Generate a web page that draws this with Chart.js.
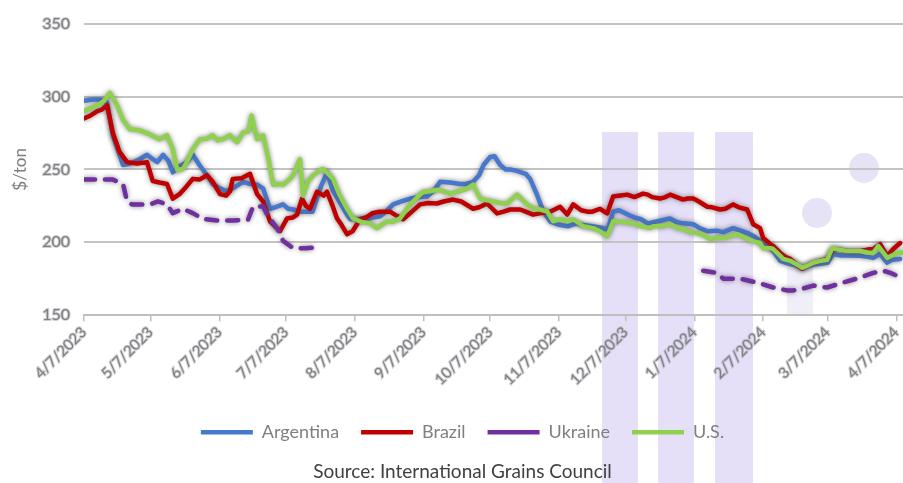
<!DOCTYPE html>
<html>
<head>
<meta charset="utf-8">
<title>Corn export prices</title>
<script src="https://cdn.jsdelivr.net/npm/chart.js@4"></script>
<style>
  html, body { margin: 0; padding: 0; background: #fff; }
  canvas { display: block; }
</style>
</head>
<body>
<canvas id="priceChart" width="903" height="483"></canvas>
<script>
// x values are days counted from 4/7/2023, y values in $/ton
const tickDays = [0, 30, 61, 91, 122, 153, 183, 214, 244, 275, 306, 335, 366];
const tickLabels = ['4/7/2023', '5/7/2023', '6/7/2023', '7/7/2023', '8/7/2023', '9/7/2023',
  '10/7/2023', '11/7/2023', '12/7/2023', '1/7/2024', '2/7/2024', '3/7/2024', '4/7/2024'];
const yTicks = [150, 200, 250, 300, 350];

const argentina = [
  [0,297],[4,298],[7,298],[10.4,296],[13,273],[17.6,253],[21,254],[25,257],[28.4,260],[31,257],
  [33,255],[35.6,260],[38,256],[40,248],[43,252],[46.4,255],[49,260],[52,253],[55.4,246],[58,240],
  [61.3,237],[64,235],[67,237],[71.7,241.5],[75,240],[78,239.5],[80.7,237],[83.8,223],[86,224],[89.7,226],
  [92,223],[94.2,222.5],[97.3,221],[100,221],[103,221],[106.4,237],[109.5,248],[112,236],[115,228],[118.5,219],
  [120,215.8],[124,216],[127.5,216],[130,217],[133.4,217.8],[136,221],[139.3,226],[143,228],[147,230],[151,231],
  [154.6,231.4],[158,236],[160.4,241.5],[165,241],[169.4,240],[172,240],[175.3,241.5],[178,246],[180,253],[183,258.5],
  [185,259],[187.5,253],[190,250],[192,250],[195,249],[199,247],[201,243.5],[204,233],[207,221],[210,214.4],
  [214,212],[218,211],[222,213],[224,212],[229,211],[233,210],[236,209],[238.4,221],[241,222],[245,219],
  [248,217],[251,215.8],[254,213],[257,214],[260,215],[264,216.4],[267,214],[270,213],[274.5,212.4],[277,210],
  [281,207.6],[285,208],[288,207],[292.5,209.7],[296,208],[299,206.3],[302,204],[304.6,201],[308,197],[310.5,194],
  [313.7,187.3],[316,186],[318,185],[321,184],[323.6,181.9],[327,184],[330,185],[335,186],[337.5,192],[341,191],
  [345,191],[349.7,190.7],[353,190],[355.6,189.3],[358.7,192],[361.9,186],[364,188],[367.7,188.6]
];

const brazil = [
  [0,285],[3,287],[6,290],[8,291],[10.4,294],[13,275],[16,262],[19.4,255],[24,254],[28.4,255],
  [31,242],[34,241],[37.4,240],[40,230],[43,233],[46,238],[49,243.5],[52,243],[55.4,246],[58,241.5],
  [61.3,233],[64,232],[65.8,235],[67,243.5],[71,244],[74.8,247],[78,233],[80.7,228],[83.8,214.4],[86,211],
  [88.3,207.6],[91.5,216.4],[94,217],[96,219],[98.2,230],[100,225],[101.8,223],[105,234.7],[108,232],[109.5,234.7],
  [112,225],[114,216.4],[116,212],[118.5,205.6],[121,207.6],[124.4,215.8],[127,217],[130,220],[133,221],[137.9,221],
  [140,219],[143.8,215.8],[147,220],[151.4,226],[155,227],[159,226.6],[162,228],[166.3,229.3],[170,228],[175.3,223],
  [178,224],[181.6,226.6],[184,223],[186.1,219.8],[189,221],[192,222.5],[196.5,222.5],[199,221],[202.3,219],[206,220],
  [210,221],[214.5,224.4],[217.7,219],[220.4,226],[224,222],[226.7,221],[229,221],[232.5,223],[235.7,219.8],[238.4,231.4],
  [241,232],[244.7,232.7],[248,231],[251.9,233.4],[254,232.7],[256,231],[259.6,230],[262,231],[264.1,232.7],[267,231],
  [269.9,229.3],[272,230],[274.5,230],[277,228],[280.8,224.4],[283,224],[286.6,222.5],[289,223],[292.5,226],[295,224],
  [298.8,222.5],[301.5,212.4],[304.6,209.7],[306,202.9],[309.2,198.8],[310.5,197.5],[313.7,192.7],[316,190],[318.2,188.6],[321,185],
  [323.6,181.9],[326,184],[328.5,186],[331,187],[334.8,188.6],[337.5,195.4],[340,195],[343.8,194],[347,194],[349.7,194],
  [353,195],[355.6,195.4],[358.7,198.8],[361.9,190.7],[364.6,195.4],[367.7,199.5]
];

// Ukraine has no quotes between early August and late January
const ukraine = [
  [0,243],[6,243],[13,243],[17.6,240],[19.4,228],[21.6,226],[26,226],[29.7,226],[33.3,228],[37.4,226],
  [40,220],[44.6,223],[49,220],[53.6,216],[60,215],[67,215],[73.9,215.5],[76.2,224.6],[80.7,224.6],[82.5,219],
  [87,209.7],[89.7,201],[94.2,196],[100,196],[106.4,196.5],[192,null],
  [279,180.5],[285.3,179],[288,175],[295.6,175],[303.3,172.4],[310.5,169],[316.8,167],[319.5,167],[324,168.3],[328.5,170.3],
  [334.8,169],[342,172.4],[349.7,175.8],[355.6,179],[360.1,180.5],[363.3,179],[366.4,177]
];

const us = [
  [0,290],[3,292],[5.9,293.7],[9,297],[11.7,302.5],[14.9,294],[17.6,284],[20.7,277.5],[25,276.8],[29.7,274],
  [34,270.7],[37.4,273.4],[40,264],[42,249.7],[44.6,250.3],[47,257],[49,264],[52.3,270.7],[55.4,271],[58,273.4],
  [60,270],[62.6,270.7],[65.8,273.4],[69,268.6],[71.7,275.4],[74,276],[75.5,287],[78,270.7],[80.7,273.4],[83,258],
  [85.2,239.5],[88,240],[89.7,239.5],[92.8,243.5],[94.2,246],[97.3,257],[98.7,232],[101,242],[103.2,246],[106,249],
  [107.7,250.3],[110,247],[112.2,243.5],[115,233],[118.5,223],[121.2,216.4],[125,214],[128.9,213],[132,209.7],[136.5,214.4],
  [139,214],[142.4,216.4],[146,224],[148.3,228],[152.8,234.7],[156,235],[159.1,236],[162,235],[164.9,233.4],[169,235],
  [172.6,236.8],[175.3,239.5],[178.5,230],[181,229],[184.3,228],[187.5,227],[190.6,226.6],[195.1,232.7],[199.6,226],[203,223],
  [205.5,222.5],[208.7,221],[211.4,214.4],[214.5,215.8],[217.7,214.4],[220.4,215.8],[224.9,211],[229.4,209.7],[232.5,207.6],[235.7,204],
  [238.4,214.4],[242,214],[247.4,213],[251,211],[255.1,209.7],[256.4,211],[260,211],[264.1,212.4],[267,210],[269.9,209],
  [273,207],[276.3,206.3],[279,205],[282.1,202.2],[285,203],[288,202.9],[291,204],[294.3,205.6],[298,203],[301,201],
  [304.6,199.5],[306,196],[309.2,196],[310.5,195.4],[313.7,190.7],[315,188.6],[318.2,187.3],[321,185],[323.6,182.5],[326,184],
  [328.5,186],[331,187],[334.8,188],[337.1,196],[340,195],[343.8,194],[347,194],[349.7,194],[353,193],[355.6,192.7],
  [357.8,197.5],[361.9,189.3],[364,191],[366.4,192.7],[369,193]
];

const toPoints = arr => arr.map(([x, y]) => ({ x, y }));

// faint logo stamped behind the plot
const watermark = {
  id: 'watermark',
  beforeDraw(chart) {
    const c = chart.ctx;
    c.save();
    c.fillStyle = 'rgba(200,185,240,0.45)';
    [[602, 36], [658, 36], [715, 38]].forEach(([x, w]) => c.fillRect(x, 132, w, 483 - 132));
    c.fillStyle = 'rgba(205,200,240,0.5)';
    [[864, 168, 15], [817, 213, 15]].forEach(([x, y, r]) => {
      c.beginPath(); c.arc(x, y, r, 0, Math.PI * 2); c.fill();
    });
    c.fillStyle = 'rgba(215,212,240,0.4)';
    c.fillRect(787, 268, 26, 46);
    c.restore();
  }
};

// soft grey halo around each series line
const glow = {
  id: 'glow',
  beforeDatasetDraw(chart) {
    const c = chart.ctx;
    c.save();
    c.shadowColor = 'rgba(80,80,80,0.7)';
    c.shadowBlur = 5;
  },
  afterDatasetDraw(chart) {
    chart.ctx.restore();
  }
};

const line = (label, data, color, order, extra) => Object.assign({
  label, data: toPoints(data), borderColor: color, backgroundColor: color,
  borderWidth: 4.5, pointRadius: 0, tension: 0, order,
  borderJoinStyle: 'round', borderCapStyle: 'round', spanGaps: false
}, extra || {});

const FONT = 'Lato, "Open Sans", sans-serif';

new Chart(document.getElementById('priceChart'), {
  type: 'line',
  data: {
    datasets: [
      line('Argentina', argentina, '#4678cd', 4),
      line('Brazil', brazil, '#c00000', 3),
      line('Ukraine', ukraine, '#7030a0', 2, { borderDash: [11, 10] }),
      line('U.S.', us, '#8fd14f', 1)
    ]
  },
  plugins: [watermark, glow],
  options: {
    responsive: false,
    animation: false,
    layout: { padding: { left: 22, right: 0, top: 18, bottom: 0 } },
    plugins: {
      tooltip: { enabled: false },
      legend: {
        position: 'bottom',
        labels: {
          usePointStyle: true,
          pointStyle: 'line',
          pointStyleWidth: 52,
          boxHeight: 4,
          padding: 22,
          color: '#7f7f7f',
          font: { family: FONT, size: 18 },
          sort: (a, b) => a.datasetIndex - b.datasetIndex
        }
      },
      title: {
        display: true,
        position: 'bottom',
        text: 'Source: International Grains Council',
        color: '#404040',
        font: { family: FONT, size: 19, weight: 'normal' },
        padding: { top: 9, bottom: 0 }
      }
    },
    scales: {
      x: {
        type: 'linear',
        min: 0,
        max: 369,
        afterBuildTicks: axis => { axis.ticks = tickDays.map(v => ({ value: v })); },
        afterFit: s => { s.height = 86; s.paddingLeft = 0; s.paddingRight = 0; },
        ticks: {
          autoSkip: false,
          minRotation: 45,
          maxRotation: 45,
          padding: 2,
          color: '#7f7f7f',
          textStrokeColor: 'rgba(160,160,170,0.5)',
          textStrokeWidth: 2,
          font: { family: FONT, size: 15 },
          callback: value => tickLabels[tickDays.indexOf(value)]
        },
        grid: { drawOnChartArea: false, drawTicks: true, tickLength: 6, color: '#bfbfbf', lineWidth: 1.5 },
        border: { display: true, color: '#bfbfbf', width: 2 }
      },
      y: {
        min: 150,
        max: 350,
        afterBuildTicks: axis => { axis.ticks = yTicks.map(v => ({ value: v })); },
        afterFit: s => { s.width = 62; },
        ticks: {
          padding: 14,
          color: '#7f7f7f',
          textStrokeColor: 'rgba(160,160,170,0.5)',
          textStrokeWidth: 2,
          font: { family: FONT, size: 16 }
        },
        grid: { drawTicks: false, color: '#c4c4c4', lineWidth: 2 },
        border: { display: false },
        title: {
          display: true,
          text: '$/ton',
          color: '#7f7f7f',
          font: { family: FONT, size: 17 },
          padding: { top: -12, bottom: 0 }
        }
      }
    }
  }
});
</script>
</body>
</html>
